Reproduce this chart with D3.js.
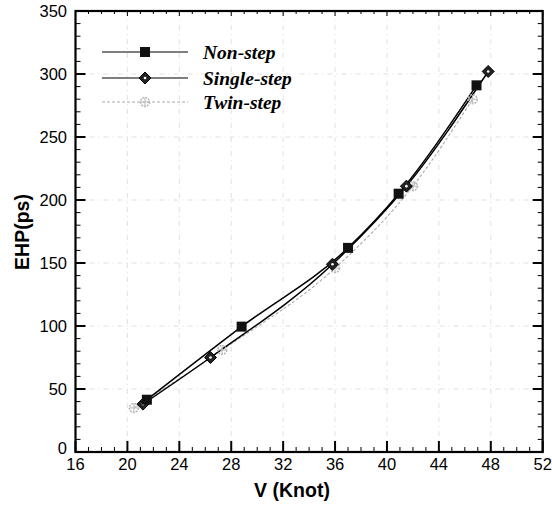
<!DOCTYPE html>
<html><head><meta charset="utf-8">
<script src="https://cdn.jsdelivr.net/npm/d3@7"></script>
<style>body{margin:0;background:#fff}svg{display:block}</style>
</head><body>
<script>
const seriesNames = ["Non-step", "Single-step", "Twin-step"];
const nonStepV   = [21.5, 28.8, 37.0, 40.9, 46.9];
const nonStepEHP = [41.5, 99.5, 162, 205, 291];
const singleV    = [21.2, 26.4, 35.8, 41.5, 47.8];
const singleEHP  = [38, 75, 149, 211, 302];
const twinV      = [20.5, 27.3, 36.0, 42.0, 46.6];
const twinEHP    = [35, 81, 146, 211, 280];
const xTicks = [16, 20, 24, 28, 32, 36, 40, 44, 48, 52];
const yTicks = [0, 50, 100, 150, 200, 250, 300, 350];

const W = 552, H = 507;
const m = {l: 75.5, r: 542.7, t: 11, b: 452};
const svg = d3.select("body").append("svg").attr("width", W).attr("height", H);
const x = d3.scaleLinear().domain([16, 52]).range([m.l, m.r]);
const y = d3.scaleLinear().domain([0, 350]).range([m.b, m.t]);

// grid
const grid = svg.append("g").attr("stroke", "#bbb").attr("stroke-width", 0.8)
  .attr("stroke-dasharray", "5,4,1,4").attr("opacity", 0.55);
xTicks.slice(1, -1).forEach(v => grid.append("line").attr("x1", x(v)).attr("x2", x(v)).attr("y1", m.t).attr("y2", m.b));
yTicks.slice(1, -1).forEach(v => grid.append("line").attr("x1", m.l).attr("x2", m.r).attr("y1", y(v)).attr("y2", y(v)));

// minor/major ticks inward
const tk = svg.append("g").attr("stroke", "#000");
d3.range(16, 53, 1).forEach(v => {
  const major = v % 4 === 0;
  const len = major ? 11 : 5;
  tk.append("line").attr("x1", x(v)).attr("x2", x(v)).attr("y1", m.b).attr("y2", m.b - len).attr("stroke-width", major ? 2 : 1);
  tk.append("line").attr("x1", x(v)).attr("x2", x(v)).attr("y1", m.t).attr("y2", m.t + (major ? 5 : 3)).attr("stroke-width", 1);
});
d3.range(0, 351, 10).forEach(v => {
  const major = v % 50 === 0;
  const len = major ? 10 : 5;
  tk.append("line").attr("x1", m.l).attr("x2", m.l + len).attr("y1", y(v)).attr("y2", y(v)).attr("stroke-width", major ? 2 : 1);
  tk.append("line").attr("x1", m.r).attr("x2", m.r - len).attr("y1", y(v)).attr("y2", y(v)).attr("stroke-width", major ? 2 : 1);
});

// frame
svg.append("rect").attr("x", m.l).attr("y", m.t).attr("width", m.r - m.l).attr("height", m.b - m.t)
  .attr("fill", "none").attr("stroke", "#000").attr("stroke-width", 2.2);

// tick labels
svg.append("g").selectAll("text").data(xTicks).join("text")
  .attr("x", d => x(d)).attr("y", 470).attr("text-anchor", "middle")
  .attr("font-family", "Liberation Sans, Arial, sans-serif").attr("font-size", 16.5).text(d => d);
svg.append("g").selectAll("text").data(yTicks).join("text")
  .attr("x", 67).attr("y", d => y(d) + (d === 0 ? 2 : 6)).attr("text-anchor", "end")
  .attr("font-family", "Liberation Sans, Arial, sans-serif").attr("font-size", 16.5).text(d => d);

// axis titles
svg.append("text").attr("x", 292).attr("y", 497).attr("text-anchor", "middle")
  .attr("font-family", "Liberation Sans, Arial, sans-serif").attr("font-weight", "bold").attr("font-size", 19.5).text("V (Knot)");
svg.append("text").attr("transform", "translate(29,232) rotate(-90)").attr("text-anchor", "middle")
  .attr("font-family", "Liberation Sans, Arial, sans-serif").attr("font-weight", "bold").attr("font-size", 19.5).text("EHP(ps)");

// lines
const line = d3.line().x(d => x(d[0])).y(d => y(d[1])).curve(d3.curveMonotoneX);
const data = [
  {name: seriesNames[0], pts: d3.zip(nonStepV, nonStepEHP), color: "#000", dash: null, w: 1.5, mk: "square"},
  {name: seriesNames[1], pts: d3.zip(singleV, singleEHP), color: "#000", dash: null, w: 1.5, mk: "diamond"},
  {name: seriesNames[2], pts: d3.zip(twinV, twinEHP), color: "#aaa", dash: "3,2", w: 1.1, mk: "twin"}
];
function marker(g, cx, cy, type) {
  if (type === "square") {
    g.append("rect").attr("x", cx - 5).attr("y", cy - 5).attr("width", 10).attr("height", 10).attr("fill", "#111");
  } else if (type === "diamond") {
    g.append("path").attr("d", `M${cx},${cy-6}L${cx+6},${cy}L${cx},${cy+6}L${cx-6},${cy}Z`).attr("fill", "#222").attr("stroke", "#000");
    g.append("circle").attr("cx", cx).attr("cy", cy).attr("r", 1.3).attr("fill", "#fff");
  } else {
    g.append("circle").attr("cx", cx).attr("cy", cy).attr("r", 4.5).attr("fill", "none").attr("stroke", "#b5b5b5").attr("stroke-width", 1.5).attr("stroke-dasharray", "2,1");
    g.append("path").attr("d", `M${cx-4},${cy}H${cx+4}M${cx},${cy-4}V${cy+4}`).attr("stroke", "#c0c0c0").attr("stroke-width", 1.2);
  }
}
data.slice().reverse().forEach(s => {
  svg.append("path").attr("d", line(s.pts)).attr("fill", "none").attr("stroke", s.color)
    .attr("stroke-width", s.w).attr("stroke-dasharray", s.dash);
});
data.slice().reverse().forEach(s => {
  const g = svg.append("g");
  s.pts.forEach(p => marker(g, x(p[0]), y(p[1]), s.mk));
});

// legend
const ly = [52, 78, 102];
data.forEach((s, i) => {
  const g = svg.append("g");
  g.append("line").attr("x1", 102).attr("x2", 188).attr("y1", ly[i]).attr("y2", ly[i])
    .attr("stroke", s.color).attr("stroke-width", i === 2 ? 1 : 1.2).attr("stroke-dasharray", s.dash);
  marker(g, 145, ly[i], s.mk);
  g.append("text").attr("x", 203).attr("y", ly[i] + 6.5).attr("font-family", "Liberation Serif, Times New Roman, serif")
    .attr("font-style", "italic").attr("font-weight", "bold").attr("font-size", 19.5).text(s.name);
});
</script>
</body></html>
